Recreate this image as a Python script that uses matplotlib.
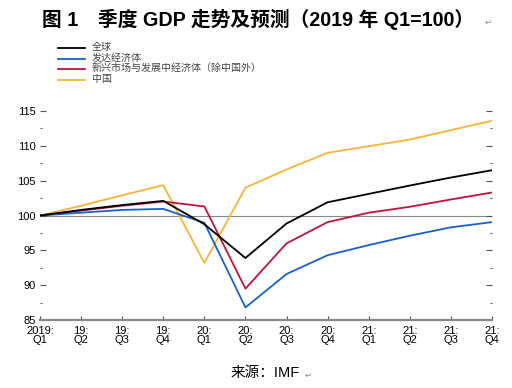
import matplotlib.pyplot as plt
from matplotlib.lines import Line2D
from matplotlib.ticker import MultipleLocator

plt.rcParams['font.family'] = ['Liberation Sans', 'Noto Sans CJK SC', 'DejaVu Sans']

# Quarterly GDP index, 2019 Q1 = 100
quarters = ['2019:\nQ1', '19:\nQ2', '19:\nQ3', '19:\nQ4', '20:\nQ1', '20:\nQ2',
            '20:\nQ3', '20:\nQ4', '21:\nQ1', '21:\nQ2', '21:\nQ3', '21:\nQ4']
world = [100, 100.8, 101.5, 102.1, 98.75, 93.9, 98.85, 101.9, 103.1, 104.3, 105.45, 106.5]
advanced = [100, 100.4, 100.8, 100.95, 98.95, 86.8, 91.6, 94.3, 95.75, 97.1, 98.3, 99.05]
emerging = [100, 100.7, 101.4, 102.0, 101.3, 89.5, 96.0, 99.05, 100.4, 101.25, 102.3, 103.3]
china = [100, 101.4, 102.9, 104.35, 93.2, 104.0, 106.6, 109.0, 109.95, 110.9, 112.25, 113.6]

series_names = ['全球', '发达经济体', '新兴市场与发展中经济体（除中国外）', '中国']
series_colors = ['#000000', '#1a5fd0', '#c0143c', '#f7b538']

fig = plt.figure(figsize=(5.12, 3.88), dpi=100)
ax = fig.add_axes([40 / 512, 1 - 320 / 388, 452 / 512, 209 / 388])

x = list(range(len(quarters)))
ax.axhline(100, color='#888888', lw=0.8, zorder=1)
ax.plot(x, china, color=series_colors[3], lw=1.3, zorder=2)
ax.plot(x, emerging, color=series_colors[2], lw=1.3, zorder=3)
ax.plot(x, advanced, color=series_colors[1], lw=1.3, zorder=4)
ax.plot(x, world, color=series_colors[0], lw=1.3, zorder=5)

ax.set_xlim(0, 11)
ax.set_ylim(85, 115)
ax.set_xticks(x, quarters)
ax.yaxis.set_major_locator(MultipleLocator(5))
ax.yaxis.set_minor_locator(MultipleLocator(2.5))
ax.tick_params(axis='y', which='both', direction='in', left=True, right=True,
               labelleft=True, labelright=False, color='#555555', labelsize=8, pad=3)
ax.tick_params(axis='y', which='major', length=4, width=0.8)
ax.tick_params(axis='y', which='minor', length=1.5, width=0.8)
ax.tick_params(axis='x', direction='in', length=3, width=0.8, color='#555555',
               labelsize=8, pad=4)
for lab in ax.get_xticklabels():
    lab.set_linespacing(0.95)
ax.get_yticklabels()[0].set_va('bottom')

for s in ['top', 'left', 'right']:
    ax.spines[s].set_visible(False)
ax.spines['bottom'].set_color('#888888')
ax.spines['bottom'].set_linewidth(1.6)

# legend block above the plot
cjk = ['Noto Sans CJK SC', 'DejaVu Sans']
for i, (name, col) in enumerate(zip(series_names, series_colors)):
    yy = 1 - (48 + i * 10.7) / 388
    fig.add_artist(Line2D([58 / 512, 85 / 512], [yy, yy], color=col, lw=1.3))
    fig.text(92 / 512, yy + 0.002, name, ha='left', va='center', fontsize=7.2,
             color='#444444', family=cjk)

fig.text(258 / 512, 1 - 19 / 388, '图 1　季度 GDP 走势及预测（2019 年 Q1=100）',
         ha='center', va='center', fontsize=14.2, fontweight='bold',
         family=['Liberation Sans', 'Noto Sans CJK SC', 'DejaVu Sans'])
fig.text(488 / 512, 1 - 22 / 388, '↵', ha='center', va='center', fontsize=6,
         color='#888888', family=['DejaVu Sans'])
fig.text(265 / 512, 1 - 373 / 388, '来源：IMF', ha='center', va='center', fontsize=10.5,
         family=['Liberation Sans', 'Noto Sans CJK SC', 'DejaVu Sans'])
fig.text(308 / 512, 1 - 375 / 388, '↵', ha='center', va='center', fontsize=6,
         color='#888888', family=['DejaVu Sans'])

fig.savefig('out.png', dpi=100)
